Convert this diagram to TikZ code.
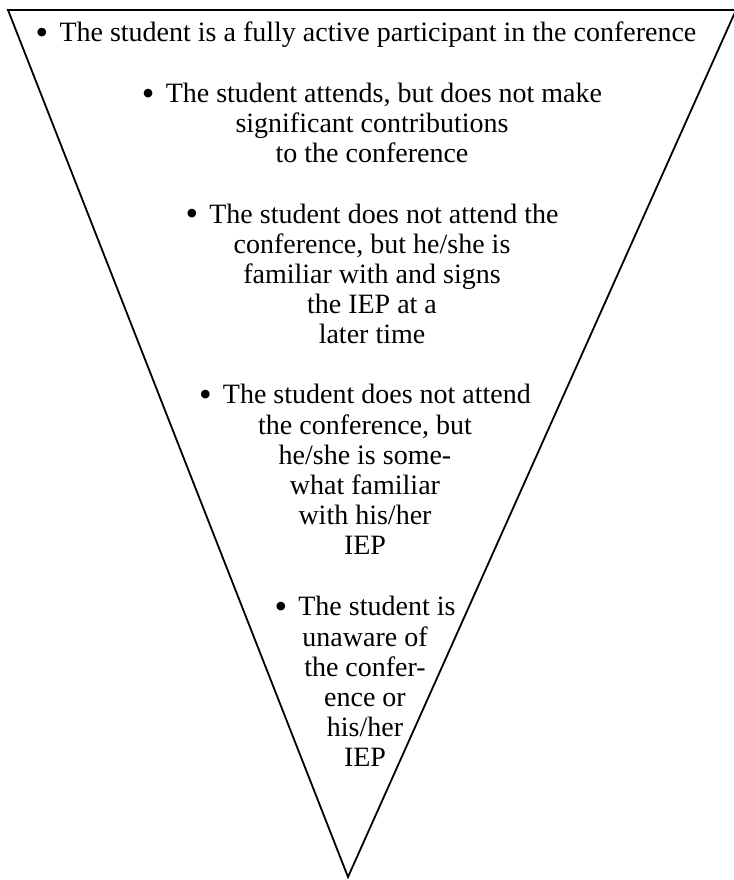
\documentclass[tikz,border=0pt]{standalone}
\usepackage{fontspec}
\setmainfont{Liberation Serif}
\usepackage{tikz}
\newcommand{\tierbullet}{{\fontsize{36}{30}\selectfont\raisebox{-2.5pt}{\textbullet}}\hspace{0.4em}}

\begin{document}
\begin{tikzpicture}[x=1pt,y=1pt,font=\fontsize{28}{30.2}\selectfont,
  tier/.style={align=center,anchor=base,inner sep=0pt},
  edge/.style={line width=1.8pt,line join=miter}]
  \useasboundingbox (0,0) rectangle (733,880);
  % inverted triangle
  \coordinate (tl) at (8,870);
  \coordinate (tr) at (736,870);
  \coordinate (tip) at (348,3);
  \draw[edge] (tl) -- (tr) -- (tip) -- cycle;
  % levels of participation, top to bottom (y = baseline of last line)
  \foreach \n/\x/\y/\t in {
    1/366/838/{\tierbullet The student is a fully active participant in the conference},
    2/372/717/{\tierbullet The student attends, but does not make\\significant contributions\\to the conference},
    3/372/536/{\tierbullet The student does not attend the\\conference, but he/she is\\familiar with and signs\\the IEP at a\\later time},
    4/365/325/{\tierbullet The student does not attend\\the conference, but\\he/she is some-\\what familiar\\with his/her\\IEP},
    5/365/113/{\tierbullet The student is\\unaware of\\the confer-\\ence or\\his/her\\IEP}} {
    \node[tier] (tier\n) at (\x,\y) {\t};
  }
\end{tikzpicture}
\end{document}
